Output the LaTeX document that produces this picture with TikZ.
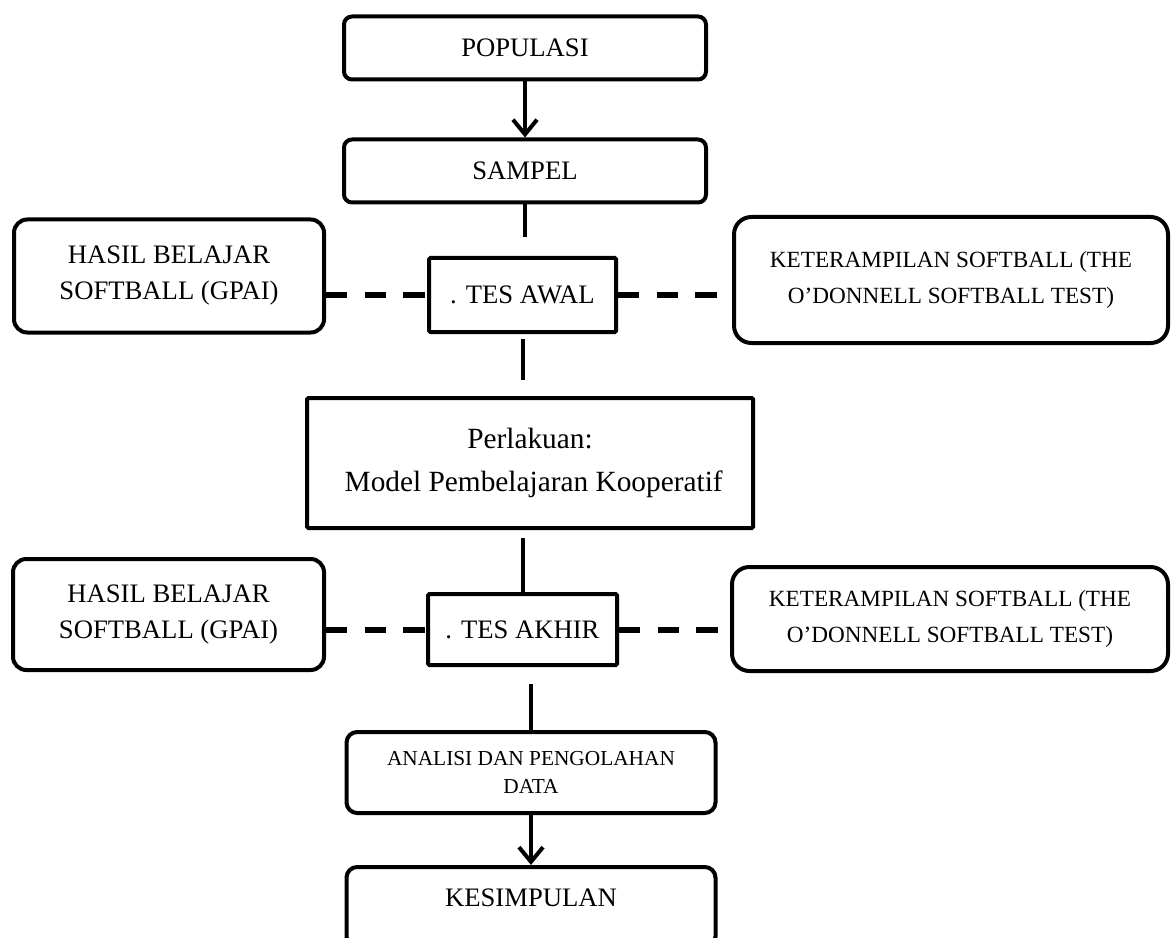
\documentclass[tikz,border=0pt]{standalone}
\usepackage{fontspec}
\setmainfont{Liberation Serif}
\usetikzlibrary{arrows.meta}
\newcommand\myfs[2]{\fontsize{#1}{#2}\selectfont}
\begin{document}
\begin{tikzpicture}[x=0.75pt,y=-0.75pt,
  sz/.style 2 args={minimum width=#1*0.75pt-3pt, minimum height=#2*0.75pt-3pt},
  box/.style={draw, line width=3pt, align=center, inner sep=0pt},
  rbox/.style={box, rounded corners=6pt},
  sbox/.style={box, rounded corners=1pt},
  ln/.style={line width=3pt},
  arr/.style={line width=3pt, -{Straight Barb[length=11pt,width=18pt]}},
  dline/.style={line width=4.5pt, dash pattern=on 16pt off 13pt}]
\useasboundingbox (0,0) rectangle (1172,938);
% top column
\node[rbox, sz={366}{67}, font=\myfs{20}{27}] (pop) at (525,48) {POPULASI};
\node[rbox, sz={366}{67}, font=\myfs{20}{27}] (sam) at (525,171) {SAMPEL};
\node[sbox, sz={191}{78}, font=\myfs{20}{27}] (tesawal) at (522.5,295) {. TES AWAL};
\node[rbox, rounded corners=10pt, sz={314}{117}, font=\myfs{20}{27}] (hasil1) at (169,276) {HASIL BELAJAR\\SOFTBALL (GPAI)};
\node[rbox, rounded corners=13pt, sz={438}{130}, font=\myfs{17.4}{27}] (ket1) at (951,280) {KETERAMPILAN SOFTBALL (THE\\O'DONNELL SOFTBALL TEST)};
\node[sbox, sz={450}{134}, font=\myfs{22}{32}] (perl) at (530,463) {Perlakuan:\\\ Model Pembelajaran Kooperatif};
% bottom part
\node[sbox, sz={193}{75}, font=\myfs{20}{27}] (tesakhir) at (522.5,629.5) {. TES AKHIR};
\node[rbox, rounded corners=10pt, sz={315}{115}, font=\myfs{20}{27}] (hasil2) at (168.5,614.5) {HASIL BELAJAR\\SOFTBALL (GPAI)};
\node[rbox, rounded corners=13pt, sz={440}{108}, font=\myfs{17.4}{27}] (ket2) at (950,619) {KETERAMPILAN SOFTBALL (THE\\O'DONNELL SOFTBALL TEST)};
\node[rbox, rounded corners=8pt, sz={373}{85}, font=\myfs{16}{21}] (analisi) at (531,772.5) {ANALISI DAN PENGOLAHAN\\DATA};
\node[rbox, rounded corners=8pt, sz={373}{84}, font=\myfs{20}{27}] (kes) at (531,907) {\raisebox{14pt}{KESIMPULAN}};
% connectors
\draw[arr] (pop.south) -- (sam.north);
\draw[ln] (sam.south) -- ++(0,33);
\draw[ln] (tesawal.south) ++(0,5) -- ++(0,41);
\draw[ln] (tesakhir.north) -- ++(0,-54);
\draw[ln] (analisi.north) -- ++(0,-46);
\draw[arr] (analisi.south) -- (kes.north);
\draw[dline] (hasil1.east |- tesawal.center) -- (tesawal.west);
\draw[dline] (tesawal.east) -- (ket1.west |- tesawal.center);
\draw[dline] (hasil2.east |- tesakhir.center) -- (tesakhir.west);
\draw[dline] (tesakhir.east) -- (ket2.west |- tesakhir.center);
\end{tikzpicture}
\end{document}
